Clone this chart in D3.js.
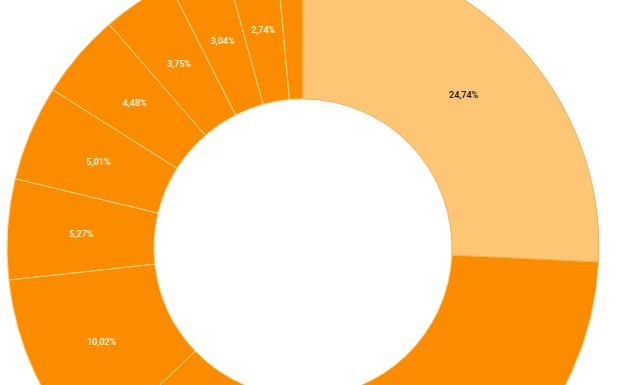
<!DOCTYPE html>
<html lang="en">
<head>
<meta charset="UTF-8">
<title>Donut</title>
<script src="https://cdnjs.cloudflare.com/ajax/libs/d3/7.8.5/d3.min.js"></script>
<style>
  html, body { margin: 0; padding: 0; background: #fff; overflow: hidden; }
  svg { display: block; }
  .lbl { font-family: Roboto, "Open Sans", sans-serif; font-size: 9px; font-weight: 500; }
</style>
</head>
<body>
<svg width="624" height="385"></svg>
<script>
    // slices clockwise from 12 o'clock; the unlabelled ones are estimated from the picture
    const labels = ["24,74%", "", "", "10,02%", "5,27%", "5,01%", "4,48%", "3,75%", "3,04%", "2,74%", ""];
    const values = [24.74, 23.3, 12.36, 10.02, 5.27, 5.01, 4.48, 3.75, 3.04, 2.74, 1.39];
    const colors = ["#fdc674", "#fb8c00", "#fb8c00", "#fb8c00", "#fb8c00", "#fb8c00",
                    "#fb8c00", "#fb8c00", "#fb8c00", "#fb8c00", "#fb8c00"];

    const svg = d3.select("svg");
    const cx = 303, cy = 248;
    const rOuter = 296, rInner = 149;

    const data = values.map((v, i) => ({ value: v, label: labels[i], color: colors[i], i: i }));
    const pie = d3.pie().value(d => d.value).sort(null);
    const arcs = pie(data);
    const arc = d3.arc().innerRadius(rInner).outerRadius(rOuter);
    const labelArc = d3.arc().innerRadius(222).outerRadius(222);

    const g = svg.append("g").attr("transform", `translate(${cx},${cy})`);

    // dark slices first, light one on top so its darker edge shows
    const ordered = arcs.slice(1).concat([arcs[0]]);
    g.selectAll("path")
        .data(ordered)
        .enter()
        .append("path")
        .attr("d", arc)
        .attr("fill", d => d.data.color)
        .attr("stroke", d => d.data.i === 0 ? "#e9a448" : "#ffd58e")
        .attr("stroke-width", d => d.data.i === 0 ? 0.8 : 1);

    g.selectAll("text")
        .data(arcs.filter(d => d.data.label))
        .enter()
        .append("text")
        .attr("class", "lbl")
        .attr("transform", d => `translate(${labelArc.centroid(d)})`)
        .attr("text-anchor", "middle")
        .attr("dy", "0.35em")
        .attr("fill", d => d.data.i === 0 ? "#111" : "#fff8e6")
        .text(d => d.data.label);
</script>
</body>
</html>
